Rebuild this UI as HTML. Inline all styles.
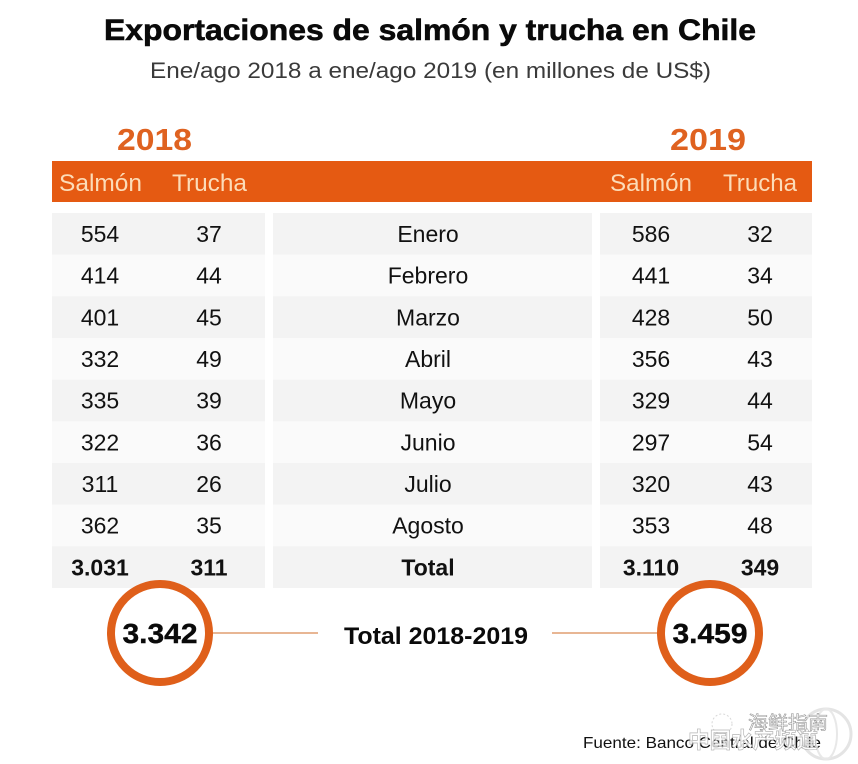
<!DOCTYPE html>
<html><head><meta charset="utf-8"><style>
html,body{margin:0;padding:0;background:#fff;}
svg{display:block;}
text{font-family:"Liberation Sans","Noto Sans CJK SC",sans-serif;}
</style></head><body>
<svg width="858" height="764" viewBox="0 0 858 764" xmlns="http://www.w3.org/2000/svg">
<rect width="858" height="764" fill="#fff"/>
<text x="104" y="40" font-size="30" font-weight="bold" fill="#0a0a0a" stroke="#0a0a0a" stroke-width="0.6" textLength="652" lengthAdjust="spacingAndGlyphs">Exportaciones de salmón y trucha en Chile</text>
<text x="150" y="78" font-size="22" fill="#3a3a3a" textLength="561" lengthAdjust="spacingAndGlyphs">Ene/ago 2018 a ene/ago 2019 (en millones de US$)</text>
<text x="117" y="150" font-size="31" font-weight="bold" fill="#df6220" textLength="75" lengthAdjust="spacingAndGlyphs">2018</text>
<text x="670" y="150" font-size="31" font-weight="bold" fill="#df6220" textLength="76" lengthAdjust="spacingAndGlyphs">2019</text>
<rect x="52" y="161" width="760" height="41" fill="#e55a12"/>
<g font-size="24" fill="#fcdcb8">
<text x="59" y="191" textLength="83" lengthAdjust="spacingAndGlyphs">Salmón</text>
<text x="172" y="191" textLength="75" lengthAdjust="spacingAndGlyphs">Trucha</text>
<text x="610" y="191" textLength="82" lengthAdjust="spacingAndGlyphs">Salmón</text>
<text x="723" y="191" textLength="74" lengthAdjust="spacingAndGlyphs">Trucha</text>
</g>
<g>
<rect x="52" y="213" width="213" height="41.7" fill="#f3f3f3"/><rect x="273" y="213" width="319" height="41.7" fill="#f3f3f3"/><rect x="600" y="213" width="212" height="41.7" fill="#f3f3f3"/>
<rect x="52" y="254.7" width="213" height="41.7" fill="#fafafa"/><rect x="273" y="254.7" width="319" height="41.7" fill="#fafafa"/><rect x="600" y="254.7" width="212" height="41.7" fill="#fafafa"/>
<rect x="52" y="296.3" width="213" height="41.7" fill="#f3f3f3"/><rect x="273" y="296.3" width="319" height="41.7" fill="#f3f3f3"/><rect x="600" y="296.3" width="212" height="41.7" fill="#f3f3f3"/>
<rect x="52" y="338" width="213" height="41.7" fill="#fafafa"/><rect x="273" y="338" width="319" height="41.7" fill="#fafafa"/><rect x="600" y="338" width="212" height="41.7" fill="#fafafa"/>
<rect x="52" y="379.7" width="213" height="41.7" fill="#f3f3f3"/><rect x="273" y="379.7" width="319" height="41.7" fill="#f3f3f3"/><rect x="600" y="379.7" width="212" height="41.7" fill="#f3f3f3"/>
<rect x="52" y="421.3" width="213" height="41.7" fill="#fafafa"/><rect x="273" y="421.3" width="319" height="41.7" fill="#fafafa"/><rect x="600" y="421.3" width="212" height="41.7" fill="#fafafa"/>
<rect x="52" y="463" width="213" height="41.7" fill="#f3f3f3"/><rect x="273" y="463" width="319" height="41.7" fill="#f3f3f3"/><rect x="600" y="463" width="212" height="41.7" fill="#f3f3f3"/>
<rect x="52" y="504.7" width="213" height="41.7" fill="#fafafa"/><rect x="273" y="504.7" width="319" height="41.7" fill="#fafafa"/><rect x="600" y="504.7" width="212" height="41.7" fill="#fafafa"/>
<rect x="52" y="546.3" width="213" height="41.7" fill="#f3f3f3"/><rect x="273" y="546.3" width="319" height="41.7" fill="#f3f3f3"/><rect x="600" y="546.3" width="212" height="41.7" fill="#f3f3f3"/>
</g>
<g font-size="23" fill="#111" text-anchor="middle">
<text x="100" y="242">554</text><text x="209" y="242">37</text><text x="428" y="242">Enero</text><text x="651" y="242">586</text><text x="760" y="242">32</text>
<text x="100" y="283.7">414</text><text x="209" y="283.7">44</text><text x="428" y="283.7">Febrero</text><text x="651" y="283.7">441</text><text x="760" y="283.7">34</text>
<text x="100" y="325.3">401</text><text x="209" y="325.3">45</text><text x="428" y="325.3">Marzo</text><text x="651" y="325.3">428</text><text x="760" y="325.3">50</text>
<text x="100" y="367">332</text><text x="209" y="367">49</text><text x="428" y="367">Abril</text><text x="651" y="367">356</text><text x="760" y="367">43</text>
<text x="100" y="408.7">335</text><text x="209" y="408.7">39</text><text x="428" y="408.7">Mayo</text><text x="651" y="408.7">329</text><text x="760" y="408.7">44</text>
<text x="100" y="450.3">322</text><text x="209" y="450.3">36</text><text x="428" y="450.3">Junio</text><text x="651" y="450.3">297</text><text x="760" y="450.3">54</text>
<text x="100" y="492">311</text><text x="209" y="492">26</text><text x="428" y="492">Julio</text><text x="651" y="492">320</text><text x="760" y="492">43</text>
<text x="100" y="533.7">362</text><text x="209" y="533.7">35</text><text x="428" y="533.7">Agosto</text><text x="651" y="533.7">353</text><text x="760" y="533.7">48</text>
<g font-weight="bold">
<text x="100" y="575.3">3.031</text><text x="209" y="575.3">311</text><text x="428" y="575.3">Total</text><text x="651" y="575.3">3.110</text><text x="760" y="575.3">349</text>
</g>
</g>
<line x1="213" y1="633" x2="318" y2="633" stroke="#d98a55" stroke-width="1.3"/>
<line x1="552" y1="633" x2="657" y2="633" stroke="#d98a55" stroke-width="1.3"/>
<circle cx="160" cy="633" r="49" fill="#fff" stroke="#df5f1a" stroke-width="8"/>
<circle cx="710" cy="633" r="49" fill="#fff" stroke="#df5f1a" stroke-width="8"/>
<text x="160" y="643" font-size="28" font-weight="bold" fill="#0a0a0a" stroke="#0a0a0a" stroke-width="0.4" text-anchor="middle" textLength="75" lengthAdjust="spacingAndGlyphs">3.342</text>
<text x="710" y="643" font-size="28" font-weight="bold" fill="#0a0a0a" stroke="#0a0a0a" stroke-width="0.4" text-anchor="middle" textLength="75" lengthAdjust="spacingAndGlyphs">3.459</text>
<text x="344" y="644" font-size="24" font-weight="bold" fill="#0a0a0a" textLength="184" lengthAdjust="spacingAndGlyphs">Total 2018-2019</text>
<text x="583" y="748" font-size="16" fill="#111" textLength="238" lengthAdjust="spacingAndGlyphs">Fuente: Banco Central de Chile</text>
<circle cx="826" cy="734" r="25" fill="none" stroke="#e4e4e4" stroke-width="3"/>
<ellipse cx="826" cy="734" rx="11" ry="25" fill="none" stroke="#e8e8e8" stroke-width="2"/>
<circle cx="722" cy="724" r="10" fill="none" stroke="#d8d8d8" stroke-width="1" stroke-dasharray="2 2"/>
<text x="748" y="729" font-size="18" fill="#fff" stroke="#999" stroke-width="0.6" textLength="80" lengthAdjust="spacingAndGlyphs">海鲜指南</text>
<text x="688" y="748" font-size="22" font-weight="bold" fill="#fff" stroke="#aaa" stroke-width="0.7" textLength="130" lengthAdjust="spacingAndGlyphs" opacity="0.85">中国水产频道</text>
</svg>
</body></html>
